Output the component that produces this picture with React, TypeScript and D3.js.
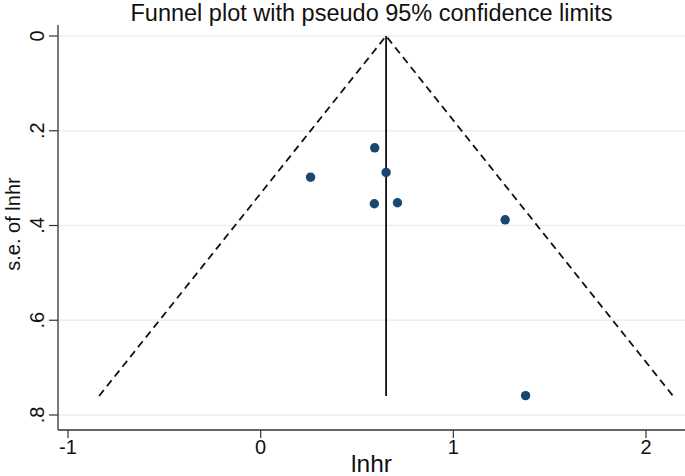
import { useEffect, useRef } from 'react'
import * as d3 from 'd3'

// study estimates (log hazard ratio) and standard errors
const lnhr = [0.592, 0.651, 0.259, 0.59, 0.71, 1.269, 1.375]
const seLnhr = [0.236, 0.288, 0.298, 0.354, 0.352, 0.388, 0.759]
const pooled = 0.651
const seMax = 0.76
const xTicks = [-1, 0, 1, 2]
const yTicks = [0, 0.2, 0.4, 0.6, 0.8]
const yTickLabels = ['0', '.2', '.4', '.6', '.8']

const W = 685
const H = 476
const FONT = '"Liberation Sans", Arial, sans-serif'

export default function App() {
  const svgRef = useRef<SVGSVGElement>(null)

  useEffect(() => {
    if (!svgRef.current) return
    const svg = d3.select(svgRef.current)
    svg.selectAll('*').remove()

    const plot = { left: 58, right: 685, top: 25, bottom: 430 }

    const x = d3.scaleLinear().domain([-1, 2]).range([68, 646])
    const y = d3.scaleLinear().domain([0, 0.8]).range([36, 415])

    // grid
    svg.append('g')
      .selectAll('line')
      .data(yTicks)
      .enter()
      .append('line')
      .attr('x1', plot.left + 1)
      .attr('x2', plot.right)
      .attr('y1', d => y(d))
      .attr('y2', d => y(d))
      .attr('stroke', '#e8f0f3')
      .attr('stroke-width', 1.5)

    // funnel limits
    const lo = pooled - 1.96 * seMax
    const hi = pooled + 1.96 * seMax
    svg.append('path')
      .attr('d', d3.line()([[x(lo), y(seMax)], [x(pooled), y(0)], [x(hi), y(seMax)]]))
      .attr('fill', 'none')
      .attr('stroke', '#111')
      .attr('stroke-width', 1.8)
      .attr('stroke-dasharray', '7.5,5')

    svg.append('line')
      .attr('x1', x(pooled))
      .attr('x2', x(pooled))
      .attr('y1', y(0))
      .attr('y2', y(seMax))
      .attr('stroke', '#111')
      .attr('stroke-width', 1.8)

    // points
    svg.append('g')
      .selectAll('circle')
      .data(lnhr.map((v, i) => [v, seLnhr[i]]))
      .enter()
      .append('circle')
      .attr('cx', d => x(d[0]))
      .attr('cy', d => y(d[1]))
      .attr('r', 4.7)
      .attr('fill', '#1a476f')

    // axes
    const axisColor = '#333'
    svg.append('line')
      .attr('x1', plot.left).attr('x2', plot.left)
      .attr('y1', plot.top).attr('y2', plot.bottom)
      .attr('stroke', axisColor).attr('stroke-width', 1.3)
    svg.append('line')
      .attr('x1', plot.left).attr('x2', plot.right)
      .attr('y1', plot.bottom).attr('y2', plot.bottom)
      .attr('stroke', axisColor).attr('stroke-width', 1.3)

    const yt = svg.append('g')
      .selectAll('g')
      .data(yTicks)
      .enter()
      .append('g')
    yt.append('line')
      .attr('x1', plot.left - 9).attr('x2', plot.left)
      .attr('y1', d => y(d)).attr('y2', d => y(d))
      .attr('stroke', axisColor).attr('stroke-width', 1.2)
    yt.append('text')
      .attr('transform', d => `translate(44,${y(d)}) rotate(-90)`)
      .attr('text-anchor', 'middle')
      .style('font-family', FONT)
      .style('font-size', '20px')
      .attr('fill', '#111')
      .text((d, i) => yTickLabels[i])

    const xt = svg.append('g')
      .selectAll('g')
      .data(xTicks)
      .enter()
      .append('g')
    xt.append('line')
      .attr('x1', d => x(d)).attr('x2', d => x(d))
      .attr('y1', plot.bottom).attr('y2', plot.bottom + 8)
      .attr('stroke', axisColor).attr('stroke-width', 1.2)
    xt.append('text')
      .attr('x', d => x(d))
      .attr('y', 454)
      .attr('text-anchor', 'middle')
      .style('font-family', FONT)
      .style('font-size', '20px')
      .attr('fill', '#111')
      .text(d => String(d))

    // titles
    svg.append('text')
      .attr('x', (plot.left + plot.right) / 2)
      .attr('y', 21)
      .attr('text-anchor', 'middle')
      .style('font-family', FONT)
      .style('font-size', '23.5px')
      .attr('fill', '#111')
      .text('Funnel plot with pseudo 95% confidence limits')

    svg.append('text')
      .attr('x', (plot.left + plot.right) / 2)
      .attr('y', 472)
      .attr('text-anchor', 'middle')
      .style('font-family', FONT)
      .style('font-size', '24.5px')
      .attr('fill', '#111')
      .text('lnhr')

    svg.append('text')
      .attr('transform', `translate(20,224) rotate(-90)`)
      .attr('text-anchor', 'middle')
      .style('font-family', FONT)
      .style('font-size', '20px')
      .attr('fill', '#111')
      .text('s.e. of lnhr')
  }, [])

  return (
    <svg
      ref={svgRef}
      width={W}
      height={H}
      style={{ position: 'absolute', left: 0, top: 0, background: '#fff' }}
    />
  )
}
